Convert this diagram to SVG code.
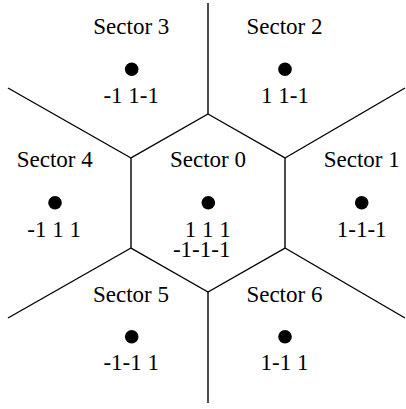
<svg xmlns="http://www.w3.org/2000/svg" width="406" height="409" viewBox="0 0 406 409">
<style>
.ln{stroke:#000;stroke-width:1.4;fill:none;stroke-linejoin:miter}
.dot{fill:#000}
.t{font-family:"Liberation Serif","Times New Roman","DejaVu Serif",serif;font-size:23px;fill:#000;text-anchor:middle}
</style>
<rect width="406" height="409" fill="#fff"/>
<g id="connectors">
<polygon class="ln" points="208,114 285,158 285,248 208,292 131,248 131,158"/>
<line class="ln" x1="208" y1="3" x2="208" y2="114"/>
<line class="ln" x1="8" y1="88" x2="131" y2="158"/>
<line class="ln" x1="285" y1="158" x2="405" y2="88"/>
<line class="ln" x1="8" y1="318" x2="131" y2="248"/>
<line class="ln" x1="285" y1="248" x2="405" y2="318"/>
<line class="ln" x1="208" y1="292" x2="208" y2="403"/>
</g>
<g id="sector0">
<text class="t" x="208" y="166.7">Sector 0</text>
<circle class="dot" cx="208.3" cy="202.7" r="6.8"/>
<text class="t" x="207.7" y="236.8">1 1 1</text>
<text class="t" x="201.7" y="257">-1-1-1</text>
</g>
<g id="sector1">
<text class="t" x="361.7" y="166.7">Sector 1</text>
<circle class="dot" cx="361.7" cy="202.7" r="6.8"/>
<text class="t" x="361.7" y="237.3">1-1-1</text>
</g>
<g id="sector2">
<text class="t" x="284.5" y="34">Sector 2</text>
<circle class="dot" cx="285" cy="69.3" r="6.8"/>
<text class="t" x="285" y="103.3">1 1-1</text>
</g>
<g id="sector3">
<text class="t" x="131.3" y="34">Sector 3</text>
<circle class="dot" cx="131.7" cy="69.3" r="6.8"/>
<text class="t" x="131.2" y="103.3">-1 1-1</text>
</g>
<g id="sector4">
<text class="t" x="54.7" y="166.7">Sector 4</text>
<circle class="dot" cx="55" cy="202.7" r="6.8"/>
<text class="t" x="54.2" y="237.3">-1 1 1</text>
</g>
<g id="sector5">
<text class="t" x="131" y="301.7">Sector 5</text>
<circle class="dot" cx="131.7" cy="336.7" r="6.8"/>
<text class="t" x="131.2" y="370">-1-1 1</text>
</g>
<g id="sector6">
<text class="t" x="284.4" y="301.7">Sector 6</text>
<circle class="dot" cx="285" cy="336.7" r="6.8"/>
<text class="t" x="284.5" y="370">1-1 1</text>
</g>
</svg>
